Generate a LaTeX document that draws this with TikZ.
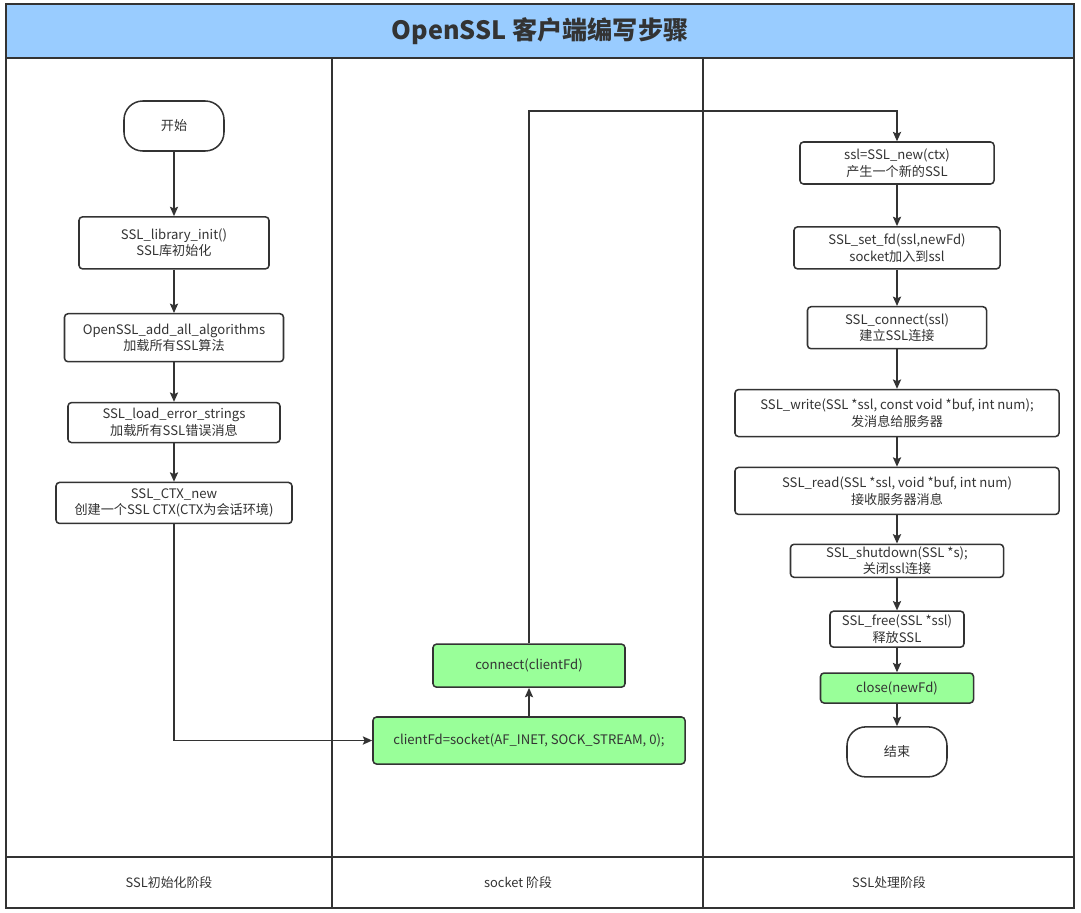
\documentclass[tikz,border=0pt]{standalone}
\usepackage{fontspec}
\setmainfont{Noto Sans CJK SC}
\usepackage{xcolor}
\usetikzlibrary{arrows.meta, positioning}

\definecolor{linegray}{HTML}{333333}
\definecolor{titleblue}{HTML}{99CCFF}
\definecolor{stepgreen}{HTML}{99FF99}

\begin{document}
\begin{tikzpicture}[
        x=0.03cm, y=-0.03cm,
        % Box styles
        stepbox/.style={rectangle, draw=linegray, line width=1.3pt, fill=white, rounded corners=3pt, text=linegray, align=center, inner sep=1pt, font=\fontsize{11.2}{14.2}\selectfont},
        greenbox/.style={stepbox, fill=stepgreen},
        termbox/.style={stepbox, rounded corners=16pt, minimum width=3cm, minimum height=1.5cm},
        lanelabel/.style={text=linegray, font=\fontsize{11}{13}\selectfont},
        arrow/.style={draw=linegray, line width=1.3pt, -{Stealth[length=8pt, width=7pt, inset=1.5pt]}}
    ]
    \useasboundingbox (0,0) rectangle (1081,912);

    % --- SWIMLANE FRAME ---
    \fill[titleblue] (6,4) rectangle (1074,58);
    \draw[linegray, line width=1.3pt] (6,4) rectangle (1074,908);
    \draw[linegray, line width=1.3pt] (6,58) -- (1074,58);
    \draw[linegray, line width=1.3pt] (6,857) -- (1074,857);
    \draw[linegray, line width=1.3pt] (332,58) -- (332,908);
    \draw[linegray, line width=1.3pt] (703,58) -- (703,908);
    \node (title) [text=linegray, font=\fontsize{21.5}{26}\selectfont\bfseries] at (540,31) {OpenSSL 客户端编写步骤};

    \node (lane1) [lanelabel] at (169,883) {SSL初始化阶段};
    \node (lane2) [lanelabel] at (518,883) {socket 阶段};
    \node (lane3) [lanelabel] at (889,883) {SSL处理阶段};

    % --- LEFT LANE: SSL INIT ---
    \node (start) [termbox] at (174,126) {开始};
    \node (init) [stepbox, minimum width=5.7cm, minimum height=1.56cm, below=1.93cm of start] {SSL\_library\_init()\\SSL库初始化};
    \node (addall) [stepbox, minimum width=6.57cm, minimum height=1.44cm, below=1.3cm of init] {OpenSSL\_add\_all\_algorithms\\加载所有SSL算法};
    \node (loaderr) [stepbox, minimum width=6.36cm, minimum height=1.2cm, below=1.18cm of addall] {SSL\_load\_error\_strings\\加载所有SSL错误消息};
    \node (ctxnew) [stepbox, minimum width=7.08cm, minimum height=1.23cm, below=1.15cm of loaderr] {SSL\_CTX\_new\\创建一个SSL CTX(CTX为会话环境)};

    % --- MIDDLE LANE: SOCKET ---
    \node (sock) [greenbox, minimum width=9.36cm, minimum height=1.41cm] at (529,740.5) {clientFd=socket(AF\_INET, SOCK\_STREAM, 0);};
    \node (conn) [greenbox, minimum width=5.76cm, minimum height=1.29cm, above=0.85cm of sock] {connect(clientFd)};

    % --- RIGHT LANE: SSL PROCESSING ---
    \node (sslnew) [stepbox, minimum width=5.82cm, minimum height=1.26cm] at (897,163) {ssl=SSL\_new(ctx)\\产生一个新的SSL};
    \node (setfd) [stepbox, minimum width=6.18cm, minimum height=1.26cm, below=1.24cm of sslnew] {SSL\_set\_fd(ssl,newFd)\\socket加入到ssl};
    \node (sslconn) [stepbox, minimum width=5.37cm, minimum height=1.26cm, below=1.09cm of setfd] {SSL\_connect(ssl)\\建立SSL连接};
    \node (sslwrite) [stepbox, minimum width=9.72cm, minimum height=1.41cm, below=1.18cm of sslconn] {SSL\_write(SSL *ssl, const void *buf, int num);\\发消息给服务器};
    \node (sslread) [stepbox, minimum width=9.72cm, minimum height=1.41cm, below=0.88cm of sslwrite] {SSL\_read(SSL *ssl, void *buf, int num)\\接收服务器消息};
    \node (shutdown) [stepbox, minimum width=6.39cm, minimum height=0.99cm, below=0.85cm of sslread] {SSL\_shutdown(SSL *s);\\关闭ssl连接};
    \node (sslfree) [stepbox, minimum width=4.02cm, minimum height=1.08cm, below=0.97cm of shutdown] {SSL\_free(SSL *ssl)\\释放SSL};
    \node (close) [greenbox, minimum width=4.59cm, minimum height=0.9cm, below=0.73cm of sslfree] {close(newFd)};
    \node (end) [termbox, below=0.67cm of close] {结束};

    \coordinate (turn) at (897,111);

    % --- CONNECTING ARROWS ---
    \draw [arrow] (start) -- (init);
    \draw [arrow] (init) -- (addall);
    \draw [arrow] (addall) -- (loaderr);
    \draw [arrow] (loaderr) -- (ctxnew);
    \draw [arrow] (ctxnew) |- (sock);

    \draw [arrow] (sock) -- (conn);
    \draw [arrow] (conn) |- (turn) -- (sslnew);

    \draw [arrow] (sslnew) -- (setfd);
    \draw [arrow] (setfd) -- (sslconn);
    \draw [arrow] (sslconn) -- (sslwrite);
    \draw [arrow] (sslwrite) -- (sslread);
    \draw [arrow] (sslread) -- (shutdown);
    \draw [arrow] (shutdown) -- (sslfree);
    \draw [arrow] (sslfree) -- (close);
    \draw [arrow] (close) -- (end);

\end{tikzpicture}
\end{document}
